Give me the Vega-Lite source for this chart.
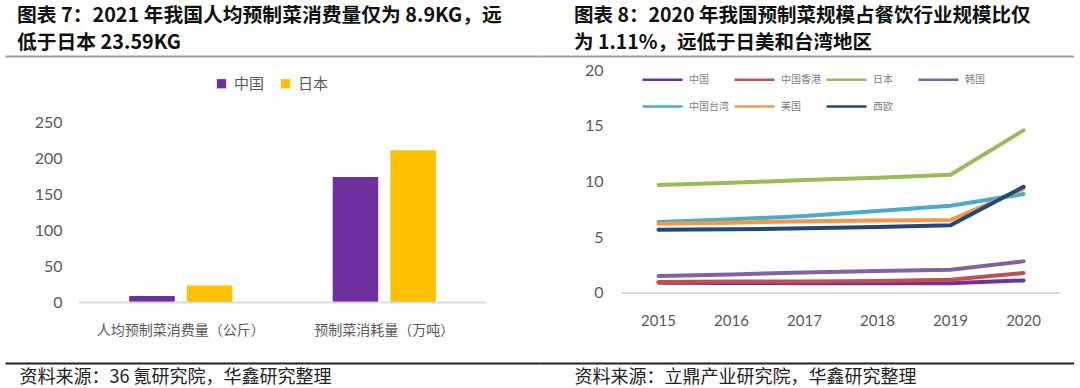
{
  "$schema": "https://vega.github.io/schema/vega-lite/v6.json",
  "background": "white",
  "padding": {"left": 5, "top": 5, "right": 0, "bottom": 12},
  "spacing": 0,
  "bounds": "flush",
  "config": {"view": {"stroke": null}, "font": "Noto Sans CJK SC"},
  "resolve": {"scale": {"color": "independent"}, "legend": {"color": "independent"}},
  "hconcat": [
    {
      "width": 534,
      "height": 307,
      "title": {
        "text": ["图表 7：2021 年我国人均预制菜消费量仅为 8.9KG，远", "低于日本 23.59KG"],
        "anchor": "start", "frame": "group", "dx": 12, "offset": 3,
        "fontSize": 19.8, "fontWeight": "bold", "lineHeight": 27, "color": "#111111",
        "font": "Noto Sans CJK SC"
      },
      "data": {"values": [
        {"cat": "人均预制菜消费量（公斤）", "country": "中国", "value": 8.9},
        {"cat": "人均预制菜消费量（公斤）", "country": "日本", "value": 23.59},
        {"cat": "预制菜消耗量（万吨）", "country": "中国", "value": 174.8},
        {"cat": "预制菜消耗量（万吨）", "country": "日本", "value": 212}
      ]},
      "layer": [
        {
          "mark": {"type": "bar"},
          "encoding": {
            "x": {
              "field": "cat", "type": "nominal", "sort": null,
              "scale": {"paddingInner": 0, "paddingOuter": 0.312, "align": 0.583},
              "axis": {
                "orient": "bottom", "title": "资料来源：36 氪研究院，华鑫研究整理",
                "domainColor": "#222222", "domainWidth": 2, "ticks": false, "labelAngle": 0,
                "labelPadding": -33, "labelBaseline": "middle", "labelFontSize": 14, "labelColor": "#595959",
                "titleAnchor": "start", "titleAlign": "left", "titleX": 14, "titleY": 14, "titleBaseline": "middle",
                "titleFontSize": 18, "titleFontWeight": "normal", "titleColor": "#222222"
              }
            },
            "xOffset": {"field": "country", "type": "nominal", "sort": ["中国", "日本"], "scale": {"paddingInner": 0.21, "paddingOuter": 0.87}},
            "y": {
              "field": "value", "type": "quantitative",
              "scale": {"domain": [-84.3, 343.3], "nice": false, "zero": false},
              "axis": {"values": [0, 50, 100, 150, 200, 250], "title": null, "domain": false, "ticks": false, "grid": false,
                       "labelPadding": -57, "labelFontSize": 16, "labelColor": "#595959", "labelFont": "Lato"}
            },
            "color": {
              "field": "country", "type": "nominal",
              "scale": {"domain": ["中国", "日本"], "range": ["#7030A0", "#FFC000"]},
              "legend": {"title": null, "orient": "none", "legendX": 209, "legendY": 20, "direction": "horizontal",
                         "symbolType": "square", "symbolSize": 86, "symbolStrokeWidth": 0, "labelFontSize": 15,
                         "labelColor": "#595959", "labelOffset": 5, "columnPadding": 13}
            }
          }
        },
        {
          "mark": {"type": "bar", "filled": false, "color": "#D9D9D9", "strokeWidth": 1.5},
          "encoding": {
            "x": {"field": "cat", "type": "nominal", "sort": null,
                  "axis": {"orient": "top", "title": null, "labels": false, "ticks": false, "domainColor": "#A0A0A0", "domainWidth": 2}},
            "y": {"datum": 0},
            "y2": {"datum": 0}
          }
        }
      ],
      "resolve": {"axis": {"x": "independent"}}
    },
    {
      "width": 535,
      "height": 307,
      "title": {
        "text": ["图表 8：2020 年我国预制菜规模占餐饮行业规模比仅", "为 1.11%，远低于日美和台湾地区"],
        "anchor": "start", "frame": "group", "dx": 35, "offset": 3,
        "fontSize": 19.5, "fontWeight": "bold", "lineHeight": 27, "color": "#111111",
        "font": "Noto Sans CJK SC"
      },
      "data": {"values": [
        {"year": 2015, "series": "中国", "value": 0.9},
        {"year": 2016, "series": "中国", "value": 0.88},
        {"year": 2017, "series": "中国", "value": 0.86},
        {"year": 2018, "series": "中国", "value": 0.85},
        {"year": 2019, "series": "中国", "value": 0.85},
        {"year": 2020, "series": "中国", "value": 1.11},
        {"year": 2015, "series": "中国香港", "value": 0.96},
        {"year": 2016, "series": "中国香港", "value": 1.0},
        {"year": 2017, "series": "中国香港", "value": 1.02},
        {"year": 2018, "series": "中国香港", "value": 1.05},
        {"year": 2019, "series": "中国香港", "value": 1.17},
        {"year": 2020, "series": "中国香港", "value": 1.77},
        {"year": 2015, "series": "日本", "value": 9.69},
        {"year": 2016, "series": "日本", "value": 9.89},
        {"year": 2017, "series": "日本", "value": 10.13},
        {"year": 2018, "series": "日本", "value": 10.34},
        {"year": 2019, "series": "日本", "value": 10.61},
        {"year": 2020, "series": "日本", "value": 14.6},
        {"year": 2015, "series": "韩国", "value": 1.5},
        {"year": 2016, "series": "韩国", "value": 1.65},
        {"year": 2017, "series": "韩国", "value": 1.83},
        {"year": 2018, "series": "韩国", "value": 1.95},
        {"year": 2019, "series": "韩国", "value": 2.07},
        {"year": 2020, "series": "韩国", "value": 2.82},
        {"year": 2015, "series": "中国台湾", "value": 6.36},
        {"year": 2016, "series": "中国台湾", "value": 6.6},
        {"year": 2017, "series": "中国台湾", "value": 6.9},
        {"year": 2018, "series": "中国台湾", "value": 7.35},
        {"year": 2019, "series": "中国台湾", "value": 7.83},
        {"year": 2020, "series": "中国台湾", "value": 8.88},
        {"year": 2015, "series": "美国", "value": 6.2},
        {"year": 2016, "series": "美国", "value": 6.3},
        {"year": 2017, "series": "美国", "value": 6.42},
        {"year": 2018, "series": "美国", "value": 6.5},
        {"year": 2019, "series": "美国", "value": 6.54},
        {"year": 2020, "series": "美国", "value": 9.35},
        {"year": 2015, "series": "西欧", "value": 5.67},
        {"year": 2016, "series": "西欧", "value": 5.7},
        {"year": 2017, "series": "西欧", "value": 5.79},
        {"year": 2018, "series": "西欧", "value": 5.9},
        {"year": 2019, "series": "西欧", "value": 6.06},
        {"year": 2020, "series": "西欧", "value": 9.53}
      ]},
      "layer": [
        {
          "mark": {"type": "line", "strokeWidth": 4, "strokeCap": "round", "strokeJoin": "round"},
          "encoding": {
            "x": {
              "field": "year", "type": "ordinal", "bandPosition": 0.5,
              "scale": {"type": "band", "paddingInner": 0, "paddingOuter": 0.664, "align": 0.856},
              "axis": {
                "orient": "bottom", "title": "资料来源：立鼎产业研究院，华鑫研究整理",
                "domainColor": "#222222", "domainWidth": 2, "ticks": false, "labelAngle": 0,
                "labelPadding": -43, "labelBaseline": "middle", "labelFontSize": 15, "labelColor": "#595959", "labelFont": "Lato",
                "titleAnchor": "start", "titleAlign": "left", "titleX": 35, "titleY": 14, "titleBaseline": "middle",
                "titleFontSize": 18, "titleFontWeight": "normal", "titleColor": "#222222"
              }
            },
            "y": {
              "field": "value", "type": "quantitative",
              "scale": {"domain": [-6.32, 21.29], "nice": false, "zero": false},
              "axis": {"values": [0, 5, 10, 15, 20], "title": null, "domain": false, "ticks": false, "grid": false,
                       "labelPadding": -64, "labelFontSize": 16, "labelColor": "#595959", "labelFont": "Lato"}
            },
            "color": {
              "field": "series", "type": "nominal",
              "scale": {"domain": ["中国", "中国香港", "日本", "韩国", "中国台湾", "美国", "西欧"],
                        "range": ["#7030A0", "#C0504D", "#9BBB59", "#8064A2", "#4BACC6", "#F79646", "#1F497D"]},
              "legend": {"title": null, "orient": "none", "legendX": 102, "legendY": 2, "columns": 4, "direction": "horizontal",
                         "symbolType": "stroke", "symbolSize": 1600, "symbolStrokeWidth": 2.5,
                         "labelFontSize": 10, "labelColor": "#7F7F7F", "labelOffset": 5,
                         "columnPadding": 0, "rowPadding": 0, "gridAlign": "all"}
            }
          }
        },
        {
          "mark": {"type": "bar", "filled": false, "color": "#D9D9D9", "strokeWidth": 1.5},
          "encoding": {
            "x": {"field": "year", "type": "ordinal",
                  "axis": {"orient": "top", "title": null, "labels": false, "ticks": false, "domainColor": "#A0A0A0", "domainWidth": 2}},
            "y": {"datum": 0},
            "y2": {"datum": 0}
          }
        }
      ],
      "resolve": {"axis": {"x": "independent"}}
    }
  ]
}
